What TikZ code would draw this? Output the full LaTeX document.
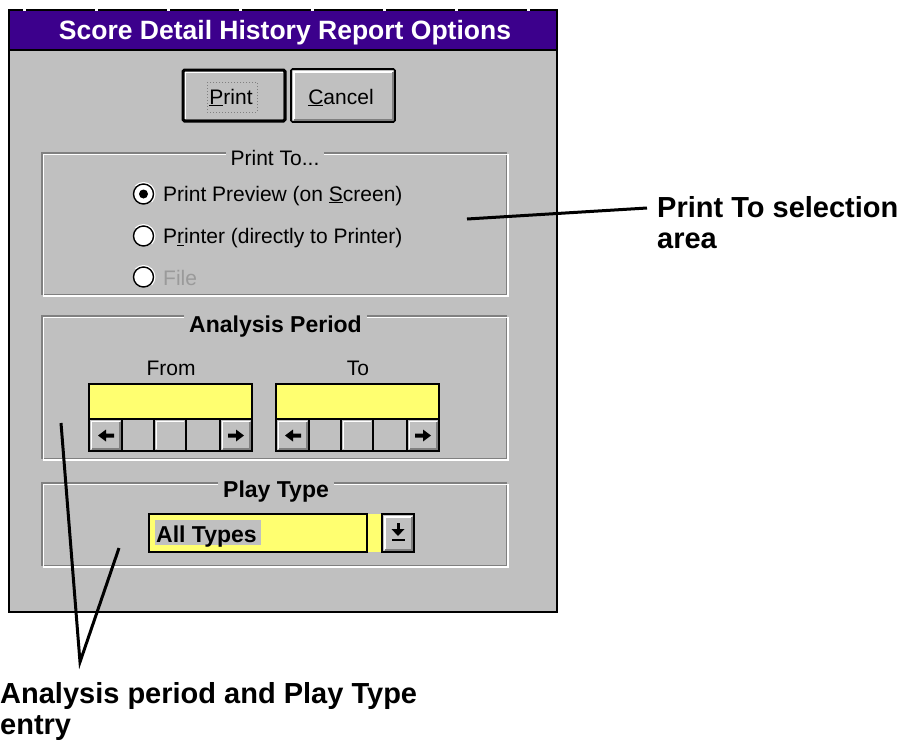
\documentclass[tikz,border=0pt]{standalone}
\usepackage{fontspec}
\setmainfont{Liberation Sans}
\definecolor{wgray}{RGB}{192,192,192}
\definecolor{dgray}{RGB}{128,128,128}
\definecolor{titlebg}{RGB}{60,0,140}
\definecolor{fieldyel}{RGB}{255,255,112}
\tikzset{
  uitext/.style={font=\fontsize{21}{24}\selectfont, inner sep=0pt, anchor=base},
  uibold/.style={font=\fontsize{23}{26}\selectfont\bfseries, inner sep=0pt, anchor=base},
  grouplabel/.style={uibold, fill=wgray, inner xsep=5pt, inner ysep=2pt},
  note/.style={font=\fontsize{29}{31}\selectfont\bfseries, inner sep=0pt, anchor=base west},
  pointer/.style={draw=black, line width=3pt, line join=miter},
}
\newcommand\winbtn[4]{%
  \fill[wgray] (#1,#2) rectangle (#3,#4);
  \draw[white, line width=2] (#1+2.5,#4-2.5) -- (#1+2.5,#2+2.5) -- (#3-2.5,#2+2.5);
  \draw[dgray, line width=2] (#1+2.5,#4-2.5) -- (#3-2.5,#4-2.5) -- (#3-2.5,#2+2.5);
}
\newcommand\etchbox[4]{%
  \draw[dgray, line width=1.3] (#1,#2) rectangle (#3-1.5,#4-1.5);
  \draw[white, line width=1.3] (#1+1.5,#2+1.5) rectangle (#3,#4);
}
\newcommand\lfarrow[2]{\fill (#1-8,#2) -- (#1,#2-6) -- (#1,#2-2) -- (#1+8,#2-2) -- (#1+8,#2+2) -- (#1,#2+2) -- (#1,#2+6) -- cycle;}
\newcommand\rtarrow[2]{\fill (#1+8,#2) -- (#1,#2-6) -- (#1,#2-2) -- (#1-8,#2-2) -- (#1-8,#2+2) -- (#1,#2+2) -- (#1,#2+6) -- cycle;}
\newcommand\scrollfield[1]{%
  \fill[fieldyel] (#1,384) rectangle (#1+163,419);
  \fill[wgray] (#1,419) rectangle (#1+163,451);
  \draw[white,line width=1.5] (#1+2.5,449) -- (#1+2.5,421.5) -- (#1+31,421.5);
  \draw[dgray,line width=1.5] (#1+2.5,449) -- (#1+31,449) -- (#1+31,421.5);
  \draw[white,line width=1.5] (#1+133.5,449) -- (#1+133.5,421.5) -- (#1+161,421.5);
  \draw[dgray,line width=1.5] (#1+133.5,449) -- (#1+161,449) -- (#1+161,421.5);
  \draw[white,line width=1.5] (#1+67.5,449) -- (#1+67.5,421.5) -- (#1+95,421.5);
  \draw[black,line width=1.5] (#1,419) -- (#1+163,419);
  \foreach \o in {33,65,97,131} \draw[black,line width=1.5] (#1+\o,419) -- (#1+\o,451);
  \draw[black,line width=1.5] (#1,384) rectangle (#1+163,451);
  \lfarrow{#1+17}{435.5}
  \rtarrow{#1+147}{435.5}
}
\begin{document}
\begin{tikzpicture}[x=1pt,y=-1pt]
\useasboundingbox (0,0) rectangle (902,740);
\fill[white] (0,0) rectangle (902,740);
% window
\fill[wgray] (9,10) rectangle (557,612);
\fill[titlebg] (9,10) rectangle (557,50);
\draw[black, line width=1.2] (9,50) -- (557,50);
\draw[black, line width=1.6] (9,10) rectangle (557,612);
\foreach \t in {23,95,167,239,311,383,455,527} \fill[white] (\t,8.5) rectangle (\t+3,10.5);
\node[font=\fontsize{26.5}{30}\selectfont\bfseries, text=white, anchor=base, inner sep=0pt] (title) at (285,39) {Score Detail History Report Options};
% buttons
\winbtn{182}{69}{286}{122}
\draw[black, line width=3, rounded corners=1.5] (183,70) rectangle (285,121);
\draw[dgray, dotted, line width=1] (207,82) rectangle (257,112);
\node[uitext] (printbtn) at (231,104) {\underline{P}rint};
\winbtn{291}{69}{395}{122}
\draw[black, line width=1.6, rounded corners=1.5] (291,69) rectangle (395,122);
\node[uitext] (cancelbtn) at (341,104) {\underline{C}ancel};
% Print To group
\etchbox{42}{153}{508}{296}
\node[grouplabel, font=\fontsize{21}{24}\selectfont] (printto) at (275,165) {Print To...};
\foreach \yy in {194,236,277} {
  \fill[white] (143.5,\yy) circle (10);
  \draw[white, line width=1.4] (143.5,\yy) ++(225:11.3) arc (225:405:11.3);
  \draw[black, line width=1.4] (143.5,\yy) circle (10);
}
\fill[black] (143.5,194) circle (4.5);
\node[uitext, anchor=base west] (preview) at (163,201) {Print Preview (on \underline{S}creen)};
\node[uitext, anchor=base west] (printer) at (163,243.5) {P\underline{r}inter (directly to Printer)};
\node[uitext, anchor=base west, text=dgray!80!white] (file) at (163,285) {File};
% Analysis Period group
\etchbox{42}{316}{508}{460}
\node[grouplabel] (analysis) at (275.5,332) {Analysis Period};
\node[uitext] (from) at (171,375) {From};
\node[uitext] (to) at (358,375) {To};
\scrollfield{89}
\scrollfield{276}
% Play Type group
\etchbox{42}{483}{508}{567}
\node[grouplabel] (playtype) at (276,497) {Play Type};
\fill[fieldyel] (149,514) rectangle (381,552);
\fill[wgray] (155,520) rectangle (261,545);
\draw[black, line width=1.5] (149,514) rectangle (367,552);
\node[uibold, anchor=base west] (alltypes) at (156,542) {All Types};
\winbtn{382}{514}{414}{552}
\draw[black, line width=1.5] (382,514) rectangle (414,552);
\fill (396.5,523) rectangle (399.5,529);
\fill (391.5,529) -- (404.5,529) -- (398,536) -- cycle;
\fill (391.5,539) rectangle (404.5,541);
% annotations
\node[note] (ptlabel) at (657,217) {Print To selection};
\node[note] (ptarea) at (657,248) {area};
\coordinate (ptstart) at (467,219);
\coordinate (ptend) at (647,208);
\draw[pointer] (ptstart) -- (ptend);
\node[note] (aplabel) at (0,703) {Analysis period and Play Type};
\node[note] (entry) at (0,734) {entry};
\coordinate (va) at (61,423);
\coordinate (vtip) at (80,662);
\coordinate (vb) at (119,548);
\draw[pointer] (va) -- (vtip) -- (vb);
\end{tikzpicture}
\end{document}
